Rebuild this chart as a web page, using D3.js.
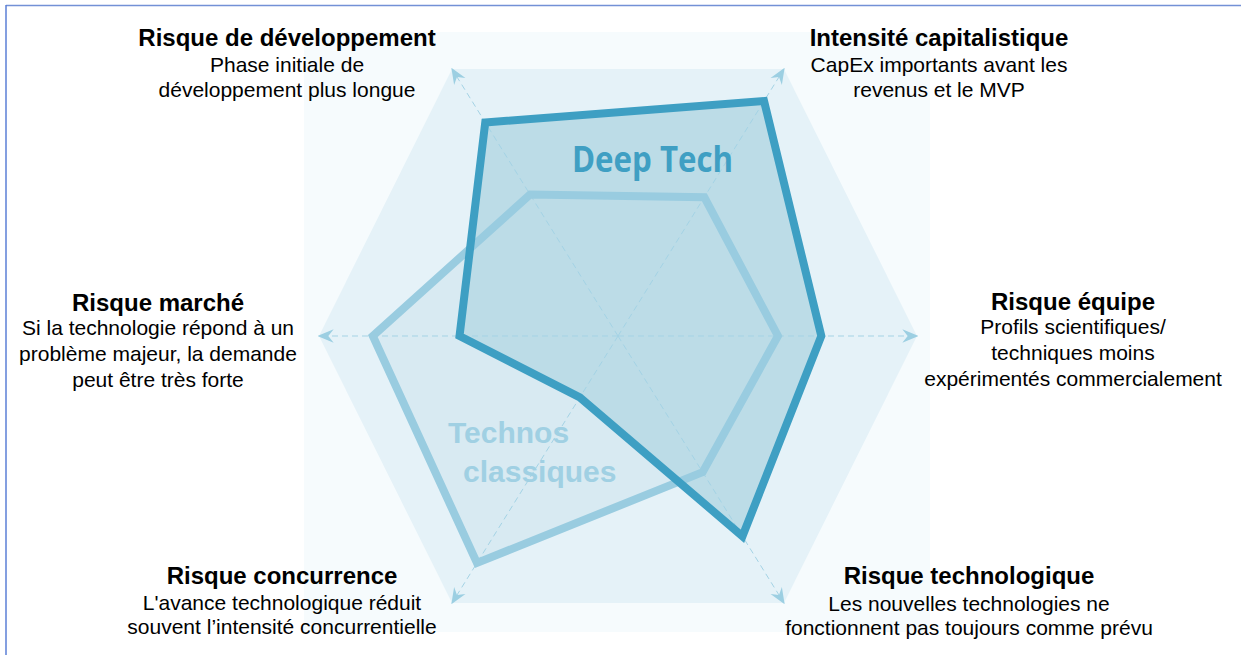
<!DOCTYPE html>
<html>
<head>
<meta charset="utf-8">
<script src="https://cdn.jsdelivr.net/npm/d3@7"></script>
<style>
  body { margin: 0; background: #fff; }
  svg { display: block; font-family: "Liberation Sans", Arial, sans-serif; }
</style>
</head>
<body>
<svg width="1241" height="655"></svg>
<script>
// axes, clockwise from top-right
var categories = ['Intensité capitalistique', 'Risque équipe', 'Risque technologique',
                  'Risque concurrence', 'Risque marché', 'Risque de développement'];
var descriptions = [
    ['CapEx importants avant les', 'revenus et le MVP'],
    ['Profils scientifiques/', 'techniques moins', 'expérimentés commercialement'],
    ['Les nouvelles technologies ne', 'fonctionnent pas toujours comme prévu'],
    ["L'avance technologique réduit", "souvent l’intensité concurrentielle"],
    ['Si la technologie répond à un', 'problème majeur, la demande', 'peut être très forte'],
    ['Phase initiale de', 'développement plus longue']
];
var deepTech = [0.88, 0.68, 0.75, 0.23, 0.53, 0.80];
var technos  = [0.52, 0.535, 0.51, 0.85, 0.82, 0.53];

var svg = d3.select('svg');

// unit directions of each axis (hexagon is a bit wider than regular)
var dirs = [[0.555, -1], [1, 0], [0.555, 1], [-0.555, 1], [-1, 0], [-0.555, -1]];

var x = d3.scaleLinear().domain([-1, 1]).range([319, 917]);
var y = d3.scaleLinear().domain([-1, 1]).range([69, 603]);

function pt(i, v) { return [x(v * dirs[i][0]), y(v * dirs[i][1])]; }

var line = d3.line().curve(d3.curveLinearClosed);

// frame
svg.append('line').attr('x1', 6).attr('y1', 5.5).attr('x2', 1241).attr('y2', 5.5)
    .attr('stroke', '#7391d6').attr('stroke-width', 1.5);
svg.append('line').attr('x1', 6).attr('y1', 5).attr('x2', 6).attr('y2', 655)
    .attr('stroke', '#5b7fd6').attr('stroke-width', 1.5);

// background
svg.append('rect').attr('x', 304).attr('y', 32).attr('width', 626).attr('height', 600)
    .attr('fill', '#f6fbfd');
svg.append('path')
    .attr('d', line(categories.map(function(d, i) { return pt(i, 1); })))
    .attr('fill', '#e5f2f8');

// series fills
svg.append('path')
    .attr('d', line(technos.map(function(v, i) { return pt(i, v); })))
    .attr('fill', '#d8eaf2');
svg.append('path')
    .attr('d', line(deepTech.map(function(v, i) { return pt(i, v); })))
    .attr('fill', '#bcdce7');

// arrow marker
svg.append('defs').append('marker')
    .attr('id', 'arrow')
    .attr('viewBox', '0 0 12 10')
    .attr('refX', 11).attr('refY', 5)
    .attr('markerWidth', 16).attr('markerHeight', 14)
    .attr('markerUnits', 'userSpaceOnUse')
    .attr('orient', 'auto')
    .append('path')
    .attr('d', 'M0,0 L12,5 L0,10 L4,5 Z')
    .attr('fill', '#9ccfe2');

// dashed axes
svg.append('g').selectAll('line')
    .data(categories)
    .enter()
    .append('line')
    .attr('x1', x(0)).attr('y1', y(0))
    .attr('x2', function(d, i) { return pt(i, 1)[0]; })
    .attr('y2', function(d, i) { return pt(i, 1)[1]; })
    .attr('stroke', '#a4d3e5')
    .attr('stroke-width', 1)
    .attr('stroke-dasharray', '6,4')
    .attr('marker-end', 'url(#arrow)');

// series outlines
svg.append('path')
    .attr('d', line(technos.map(function(v, i) { return pt(i, v); })))
    .attr('fill', 'none')
    .attr('stroke', '#99cce0')
    .attr('stroke-width', 8)
    .attr('stroke-linejoin', 'miter');
svg.append('path')
    .attr('d', line(deepTech.map(function(v, i) { return pt(i, v); })))
    .attr('fill', 'none')
    .attr('stroke', '#3e9fc3')
    .attr('stroke-width', 8)
    .attr('stroke-linejoin', 'miter');

// series names
svg.append('text')
    .attr('x', 572).attr('y', 172)
    .attr('textLength', 161).attr('lengthAdjust', 'spacingAndGlyphs')
    .style('font-family', '"Open Sans", sans-serif')
    .style('font-weight', 700)
    .style('font-size', '35px')
    .attr('fill', '#3f9fc3')
    .text('Deep Tech');
svg.append('text')
    .attr('x', 448).attr('y', 443)
    .style('font-weight', 'bold').style('font-size', '30px')
    .attr('fill', '#a0d0e3')
    .text('Technos');
svg.append('text')
    .attr('x', 463).attr('y', 482)
    .style('font-weight', 'bold').style('font-size', '30px')
    .attr('fill', '#a0d0e3')
    .text('classiques');

// axis labels
var labelPos = [[939, 46], [1073, 310], [969, 584], [282, 584], [158, 311], [287, 46]];
var lineGap = [[26, 25], [24, 26], [27, 24], [26, 24], [24, 26], [26, 25]];

var labels = svg.append('g').selectAll('g')
    .data(categories)
    .enter()
    .append('g')
    .attr('transform', function(d, i) { return 'translate(' + labelPos[i] + ')'; })
    .attr('text-anchor', 'middle')
    .attr('fill', '#000');

labels.append('text')
    .style('font-weight', 'bold')
    .style('font-size', '24px')
    .text(function(d) { return d; });

labels.each(function(d, i) {
    var g = d3.select(this);
    var yy = 0;
    descriptions[i].forEach(function(t, j) {
        yy += j === 0 ? lineGap[i][0] : lineGap[i][1];
        g.append('text')
            .attr('y', yy)
            .style('font-size', '21px')
            .text(t);
    });
});
</script>
</body>
</html>
